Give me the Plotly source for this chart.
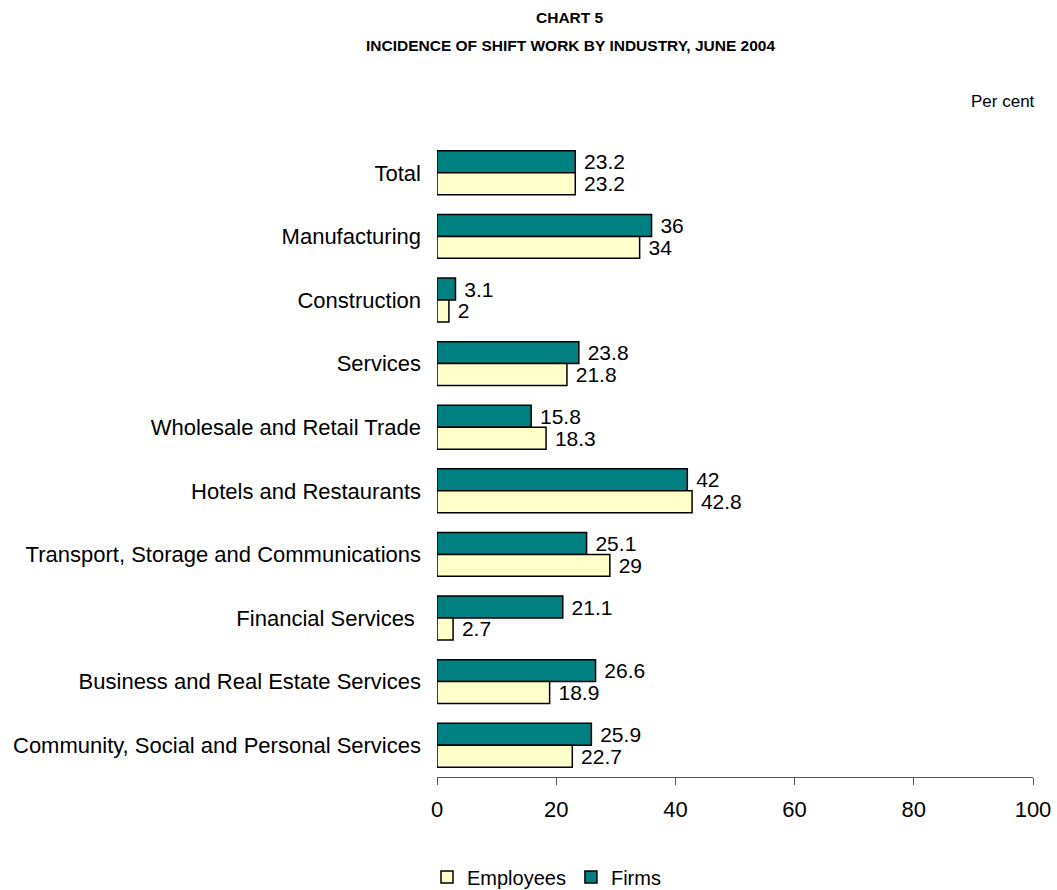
import plotly.graph_objects as go

industries = [
    "Total",
    "Manufacturing",
    "Construction",
    "Services",
    "Wholesale and Retail Trade",
    "Hotels and Restaurants",
    "Transport, Storage and Communications",
    "Financial Services ",
    "Business and Real Estate Services",
    "Community, Social and Personal Services",
]
firms = [23.2, 36, 3.1, 23.8, 15.8, 42, 25.1, 21.1, 26.6, 25.9]
employees = [23.2, 34, 2, 21.8, 18.3, 42.8, 29, 2.7, 18.9, 22.7]
x_ticks = [0, 20, 40, 60, 80, 100]

FONT = "Liberation Sans, Arial, sans-serif"
PAD = "\u00a0"  # small gap between bar end and its value label

# plot area geometry (pixels)
TOP, BOTTOM, LEFT, RIGHT = 141, 777, 437, 1033
PLOT_H = BOTTOM - TOP
PLOT_W = RIGHT - LEFT


def labels(values):
    return [f"{PAD}{v:g}" for v in values]


def py(pixel_y):
    return (BOTTOM - pixel_y) / PLOT_H


def px(pixel_x):
    return (pixel_x - LEFT) / PLOT_W


fig = go.Figure()
fig.add_trace(go.Bar(
    name="Firms", y=industries, x=firms, orientation="h",
    marker=dict(color="#008080", line=dict(color="black", width=1.5)),
    text=labels(firms), textposition="outside",
    textfont=dict(family=FONT, size=21, color="black"),
    constraintext="none", cliponaxis=False,
))
fig.add_trace(go.Bar(
    name="Employees", y=industries, x=employees, orientation="h",
    marker=dict(color="#FFFFCC", line=dict(color="black", width=1.5)),
    text=labels(employees), textposition="outside",
    textfont=dict(family=FONT, size=21, color="black"),
    constraintext="none", cliponaxis=False,
))

fig.update_layout(
    width=1057, height=890,
    margin=dict(l=LEFT, r=1057 - RIGHT, t=TOP, b=890 - BOTTOM, autoexpand=False),
    paper_bgcolor="white", plot_bgcolor="white",
    barmode="group", bargap=0.31, bargroupgap=0,
    font=dict(family=FONT, size=22, color="black"),
    showlegend=True,
    legend=dict(
        orientation="h", x=px(427), xanchor="left", y=py(877), yanchor="middle",
        traceorder="reversed", font=dict(family=FONT, size=20),
        itemwidth=30,
    ),
    xaxis=dict(
        range=[0, 100], tickvals=x_ticks, showgrid=False, zeroline=False,
        showline=True, linecolor="#555555", linewidth=1,
        ticks="outside", ticklen=7, tickcolor="#555555",
        ticklabelstandoff=6,
        tickfont=dict(family=FONT, size=22), fixedrange=True,
    ),
    yaxis=dict(
        categoryorder="array", categoryarray=industries, autorange="reversed",
        showgrid=False, zeroline=False, showline=False, ticks="",
        ticklabelstandoff=15, tickfont=dict(family=FONT, size=22),
    ),
    annotations=[
        dict(text="<b>CHART 5</b>", xref="paper", yref="paper",
             x=px(570), y=py(17), xanchor="center", yanchor="middle",
             showarrow=False, font=dict(family=FONT, size=15.5)),
        dict(text="<b>INCIDENCE OF SHIFT WORK BY INDUSTRY, JUNE 2004</b>",
             xref="paper", yref="paper",
             x=px(570), y=py(45), xanchor="center", yanchor="middle",
             showarrow=False, font=dict(family=FONT, size=15.5)),
        dict(text="Per cent", xref="paper", yref="paper",
             x=px(1037), y=py(102), xanchor="right", yanchor="middle",
             showarrow=False, font=dict(family=FONT, size=17)),
    ],
)

fig.write_html("out.html")
